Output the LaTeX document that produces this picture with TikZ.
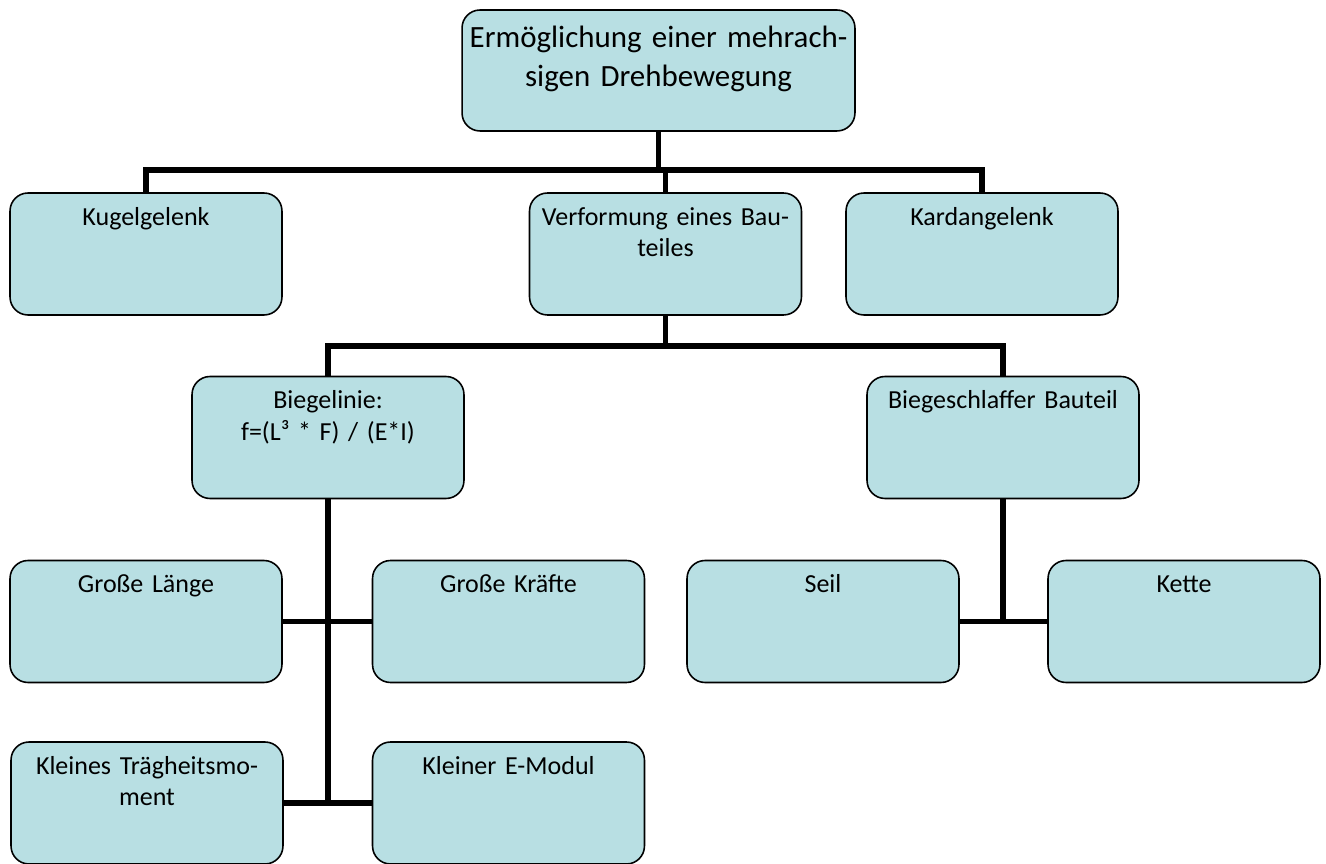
\documentclass[tikz,border=0pt]{standalone}
\usepackage{fontspec}
\setmainfont{Carlito}
\definecolor{boxfill}{HTML}{B8DFE3}

\begin{document}
\begin{tikzpicture}[
    x=0.02cm, y=-0.02cm,
    box/.style={rectangle, rounded corners=0.36cm, draw=black, line width=0.9pt, fill=boxfill,
                align=center, text width=5.2cm, minimum width=5.44cm, inner xsep=0pt, inner ysep=0pt,
                text height=0.64cm, text depth=1.80cm, font=\fontsize{14.8}{18}\selectfont},
    rootbox/.style={box, text width=7.6cm, minimum width=7.86cm, text height=0.76cm, text depth=1.66cm,
                    font=\fontsize{17.6}{22}\selectfont},
    link/.style={line width=3.4pt}
]
\useasboundingbox (0,0) rectangle (1326,864);

\node[rootbox] (root) at (658.5,70.5) {Ermöglichung einer mehrach-\\sigen Drehbewegung};
\node[box] (kugel) at (146,254) {Kugelgelenk};
\node[box] (verform) at (665.5,254) {Verformung eines Bau-\\teiles};
\node[box] (kardan) at (982,254) {Kardangelenk};
\node[box] (biege) at (328,437.5) {Biegelinie:\\f=(L³ * F) / (E*I)};
\node[box] (schlaff) at (1003,437.5) {Biegeschlaffer Bauteil};
\node[box] (laenge) at (146,621.5) {Große Länge};
\node[box] (kraefte) at (508.5,621.5) {Große Kräfte};
\node[box] (traeg) at (147,803) {Kleines Trägheitsmo-\\ment};
\node[box] (emodul) at (508.5,803) {Kleiner E-Modul};
\node[box] (seil) at (823,621.5) {Seil};
\node[box] (kette) at (1184,621.5) {Kette};

\coordinate (bus1) at (658.5,170);
\coordinate (bus2) at (665.5,346);

\draw[link] (root.south) -- (bus1);
\draw[link] (kugel.north) |- (bus1) -| (kardan.north);
\draw[link] (bus1 -| verform.north) -- (verform.north);
\draw[link] (verform.south) -- (bus2);
\draw[link] (biege.north) |- (bus2) -| (schlaff.north);
\draw[link] (biege.south) -- (biege.south |- traeg.east);
\draw[link] (laenge.east) -- (kraefte.west);
\draw[link] (traeg.east) -- (emodul.west);
\draw[link] (schlaff.south) -- (schlaff.south |- seil.east);
\draw[link] (seil.east) -- (kette.west);
\end{tikzpicture}
\end{document}
